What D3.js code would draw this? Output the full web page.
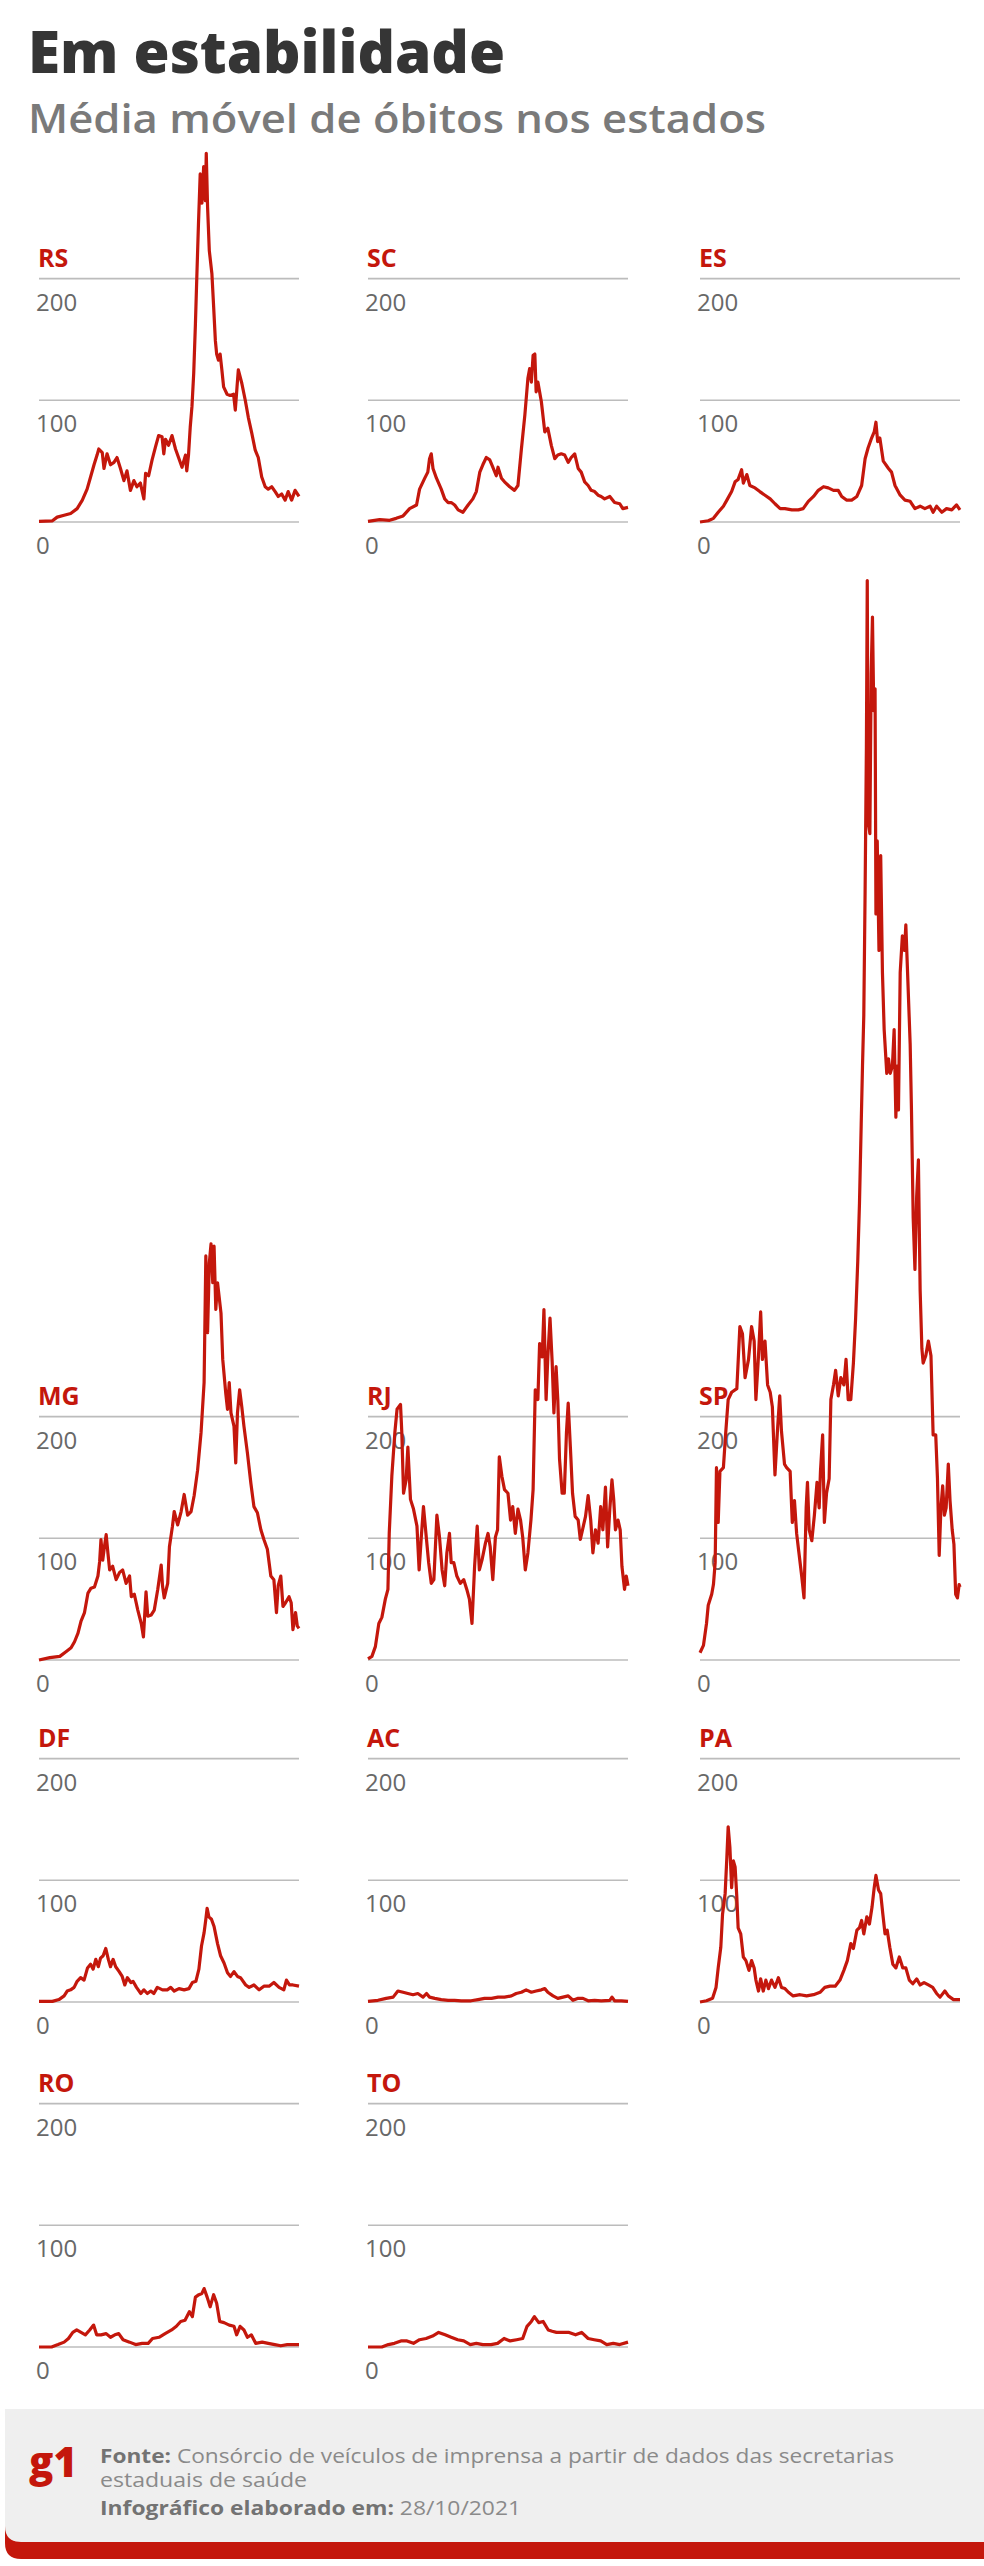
<!DOCTYPE html>
<html>
<head>
<meta charset="utf-8">
<script src="https://cdn.jsdelivr.net/npm/d3@7"></script>
<style>
  body { margin: 0; background: #fff; }
</style>
</head>
<body>
<div id="chart"></div>
<script>
// DATA: moving average of deaths, [day since start, deaths]
var states = ["RS", "SC", "ES", "MG", "RJ", "SP", "DF", "AC", "PA", "RO", "TO"];
var yTicks = [0, 100, 200];
var dayRange = [0, 600];

var rs = [[0,0.5],[31,1],[42,4],[58,5.5],[73,7],[88,11],[100,18],[111,27],[119,37],[127,47],[134,55],[138,60],[146,57],[150,44],[157,56],[165,47],[173,49],[180,53],[188,44],[196,34],[203,42],[211,26],[219,34],[226,29],[234,32],[242,19],[246,40],[253,38],[261,51],[269,62],[276,71],[284,70],[288,56],[292,68],[299,63],[307,71],[315,60],[322,53],[330,45],[338,55],[341,42],[345,55],[349,78],[353,95],[357,122],[361,163],[364,199],[368,245],[372,286],[376,262],[380,292],[384,264],[386,303],[389,259],[393,223],[399,204],[403,177],[407,149],[410,138],[414,133],[418,138],[422,125],[426,111],[434,105],[441,104],[449,105],[453,92],[457,111],[460,125],[468,114],[476,100],[483,86],[491,73],[499,59],[506,53],[514,37],[522,29],[529,27],[537,29],[545,25],[552,21],[560,23],[568,18],[575,25],[583,18],[591,26],[600,21]];

var sc = [[0,0.5],[27,2],[50,1.4],[65,3],[81,5],[96,11],[112,14],[119,27],[131,36],[138,41],[142,52],[146,56],[150,44],[158,36],[169,27],[177,19],[185,16],[192,16],[200,14],[208,10],[219,8],[231,14],[242,19],[250,25],[258,41],[265,47],[273,53],[281,51],[288,45],[296,38],[300,45],[308,36],[315,33],[327,29],[338,26],[346,30],[354,60],[362,88],[369,118],[373,126],[377,115],[381,137],[385,138],[388,107],[392,115],[400,99],[408,74],[415,77],[423,63],[431,52],[438,55],[446,56],[454,55],[462,49],[469,53],[477,56],[485,44],[492,41],[500,33],[508,30],[515,26],[523,25],[531,22],[538,21],[546,19],[558,21],[569,16],[581,15],[588,11],[600,12]];

var es = [[0,0],[19,1],[31,3],[42,8],[54,13],[62,18],[73,25],[81,33],[88,35],[96,43],[100,32],[108,39],[115,30],[127,28],[138,25],[150,22],[162,19],[173,15],[185,11],[196,11],[212,10],[227,10],[238,11],[250,17],[262,21],[273,26],[285,29],[296,28],[308,26],[319,26],[327,21],[338,18],[350,18],[362,21],[373,30],[381,52],[388,61],[396,69],[402,74],[406,82],[410,66],[415,69],[423,50],[435,44],[442,41],[450,30],[462,22],[473,18],[485,17],[496,11],[508,13],[519,11],[531,13],[538,8],[546,13],[558,8],[569,11],[581,10],[592,14],[600,10]];

var mg = [[0,0],[25,2],[48,3],[63,7],[74,10],[82,15],[90,22],[97,32],[105,39],[113,55],[120,59],[128,60],[136,69],[140,81],[143,99],[147,82],[151,93],[155,103],[159,88],[163,74],[170,77],[178,66],[186,72],[193,74],[201,63],[209,69],[213,52],[220,54],[228,41],[236,30],[241,19],[247,56],[251,36],[259,37],[266,41],[274,58],[282,78],[285,61],[289,51],[297,63],[301,93],[308,110],[312,122],[320,111],[328,122],[335,136],[343,119],[351,122],[358,135],[366,156],[374,187],[381,228],[385,332],[389,269],[393,326],[397,342],[401,310],[404,340],[408,288],[412,310],[420,285],[424,247],[431,219],[435,206],[439,228],[443,203],[450,192],[454,162],[458,203],[463,222],[468,208],[473,192],[481,170],[489,145],[496,126],[504,121],[512,107],[519,99],[527,91],[535,69],[542,66],[548,39],[552,61],[558,69],[563,44],[569,47],[577,52],[582,47],[586,25],[592,39],[596,28],[600,26]];

var rj = [[0,1],[9,3],[17,11],[25,30],[32,35],[40,50],[46,58],[49,104],[55,151],[62,187],[67,206],[75,210],[78,187],[82,137],[88,148],[92,175],[98,132],[105,124],[113,110],[118,74],[123,101],[128,126],[135,99],[140,80],[146,63],[152,66],[159,119],[165,101],[171,74],[177,61],[182,88],[188,104],[192,80],[198,80],[205,69],[213,63],[221,66],[228,58],[234,50],[240,30],[246,77],[252,110],[257,74],[263,82],[271,96],[277,104],[282,93],[288,66],[294,101],[299,107],[303,167],[309,151],[315,140],[323,137],[329,115],[334,126],[340,104],[346,124],[352,115],[357,101],[363,74],[369,88],[376,115],[381,140],[386,222],[392,214],[396,260],[402,249],[406,288],[411,214],[415,249],[420,281],[425,245],[429,203],[434,241],[438,214],[442,165],[448,137],[453,137],[458,187],[462,211],[467,175],[472,137],[478,118],[485,115],[490,99],[495,107],[502,118],[508,135],[514,115],[519,88],[525,107],[531,96],[537,126],[542,107],[548,142],[553,93],[558,124],[563,148],[567,132],[571,107],[577,115],[582,107],[586,77],[592,58],[596,69],[600,61]];

var sp = [[0,6],[8,12],[15,30],[19,45],[27,54],[31,62],[35,80],[38,158],[42,113],[46,155],[54,158],[59,185],[65,214],[73,220],[85,223],[92,274],[98,268],[104,232],[112,247],[119,274],[125,262],[129,214],[135,250],[140,286],[144,247],[150,262],[156,226],[162,220],[167,208],[173,152],[179,190],[184,217],[188,188],[195,161],[200,158],[208,155],[213,113],[218,131],[223,104],[228,89],[235,68],[240,51],[245,125],[248,146],[252,107],[258,98],[264,119],[270,146],[275,125],[278,155],[283,185],[287,113],[292,137],[298,149],[302,214],[308,226],[313,238],[319,217],[325,232],[332,226],[337,247],[342,214],[348,214],[354,244],[359,280],[364,327],[368,375],[372,440],[375,488],[378,530],[381,631],[384,750],[386,887],[388,690],[392,679],[395,810],[398,857],[401,780],[404,798],[406,613],[409,673],[413,583],[417,661],[421,565],[425,518],[431,482],[435,494],[439,482],[444,488],[448,518],[452,446],[455,488],[458,452],[462,565],[467,595],[472,583],[475,604],[479,565],[485,506],[488,452],[492,363],[496,321],[500,381],[504,411],[508,304],[512,256],[515,244],[521,250],[527,262],[533,250],[538,185],[544,185],[548,149],[552,86],[556,125],[560,143],[564,119],[568,125],[573,161],[577,131],[582,107],[586,95],[590,54],[594,51],[598,62],[600,60]];

var df = [[0,0.5],[31,0.5],[46,2],[58,5],[65,9],[73,10],[81,12],[88,17],[96,20],[104,18],[112,28],[119,31],[125,27],[131,35],[137,29],[142,36],[148,38],[154,44],[160,35],[165,29],[171,35],[177,29],[185,25],[192,21],[198,14],[204,20],[212,16],[217,17],[225,12],[235,7],[242,10],[250,7],[258,9],[265,7],[273,12],[285,10],[296,10],[304,12],[312,9],[323,11],[335,10],[346,11],[354,16],[362,17],[369,27],[375,46],[381,57],[385,68],[388,77],[392,70],[398,68],[404,62],[412,48],[419,38],[427,32],[435,24],[442,21],[450,25],[458,21],[465,20],[477,14],[485,12],[496,14],[508,10],[519,13],[531,13],[542,16],[554,12],[565,10],[571,18],[578,14],[586,14],[600,13]];

var ac = [[0,0.5],[23,1.4],[42,3],[58,4],[69,9],[81,8],[92,7],[104,6],[115,7],[127,4],[135,7],[142,4],[154,3],[169,2],[185,1.4],[200,1.4],[215,1],[238,1],[254,2],[269,3],[285,3],[300,4],[315,4],[331,5],[342,7],[354,8],[365,10],[377,8],[388,9],[400,10],[408,11],[415,8],[427,5],[438,3],[450,4],[462,5],[473,1.4],[485,3],[496,3],[508,1],[523,1.4],[538,1],[558,1.4],[563,4],[569,1],[585,1],[600,0.5]];

var pa = [[0,0],[15,1],[29,3],[37,12],[42,28],[48,45],[52,72],[58,89],[62,119],[65,144],[69,127],[73,94],[77,116],[81,111],[85,86],[88,61],[94,56],[100,37],[106,34],[113,26],[119,34],[125,28],[129,18],[135,9],[140,19],[146,9],[152,18],[158,11],[165,18],[173,12],[181,20],[188,12],[196,11],[204,8],[215,5],[231,6],[246,5],[262,6],[277,8],[288,12],[300,13],[312,13],[323,18],[332,26],[340,34],[348,48],[354,44],[362,59],[368,61],[373,67],[378,56],[385,70],[391,64],[397,78],[402,94],[406,104],[412,92],[417,89],[422,72],[427,56],[432,59],[438,45],[445,31],[452,28],[460,37],[468,28],[475,28],[483,18],[491,15],[500,19],[508,14],[517,16],[527,14],[537,12],[546,7],[554,4],[565,9],[573,5],[585,2],[600,2]];

var ro = [[0,0],[29,0],[44,2],[58,4],[68,7],[78,12],[87,14],[97,12],[107,10],[117,14],[126,18],[133,10],[143,10],[155,11],[165,8],[175,10],[184,11],[194,6],[209,4],[223,2],[238,3],[252,3],[262,7],[277,8],[291,11],[306,14],[317,17],[327,21],[337,22],[347,29],[354,25],[361,41],[369,43],[376,44],[381,48],[388,41],[395,33],[403,43],[410,36],[417,21],[427,20],[439,18],[450,17],[456,10],[464,17],[473,14],[481,8],[490,10],[500,3],[515,4],[529,3],[544,2],[558,1],[573,2],[587,2],[600,2]];

var to = [[0,0],[32,0],[47,2],[61,3],[76,5],[90,5],[105,3],[119,6],[134,7],[149,9],[163,12],[178,10],[192,8],[207,6],[221,5],[236,2],[250,3],[265,2],[284,2],[299,3],[314,7],[328,5],[343,6],[357,7],[367,17],[377,21],[384,25],[394,20],[404,21],[416,14],[425,13],[435,12],[450,12],[464,12],[479,10],[493,12],[508,7],[522,6],[537,5],[551,2],[566,3],[581,2],[600,4]];

var series = { RS: rs, SC: sc, ES: es, MG: mg, RJ: rj, SP: sp, DF: df, AC: ac, PA: pa, RO: ro, TO: to };

// LAYOUT
var W = 984, H = 2566;
var RED = "#c4170c";
var panelW = 260;
var unit = 121.7;                 // px for 100 deaths
var colX = [39, 368, 700];
var rowZero = [522, 1660, 2002, 2347];

var svg = d3.select("#chart").append("svg")
    .attr("width", W).attr("height", H)
    .style("font-family", "'Open Sans', sans-serif");

// title
svg.append("text")
    .attr("x", 28).attr("y", 73)
    .attr("textLength", 477).attr("lengthAdjust", "spacingAndGlyphs")
    .style("font-size", "58px").style("font-weight", 800)
    .style("fill", "#353535")
    .text("Em estabilidade");

svg.append("text")
    .attr("x", 28).attr("y", 133)
    .attr("textLength", 738).attr("lengthAdjust", "spacingAndGlyphs")
    .style("font-size", "40px").style("font-weight", 600)
    .style("fill", "#7a7a7a")
    .text("Média móvel de óbitos nos estados");

// small multiples
states.forEach(function(st, i) {
    var col = i % 3, row = Math.floor(i / 3);
    var x0 = colX[col], zero = rowZero[row];

    var x = d3.scaleLinear().domain(dayRange).range([x0, x0 + panelW]);
    var y = d3.scaleLinear().domain([0, 200]).range([zero, zero - 2 * unit]);

    var g = svg.append("g");

    g.selectAll("line.grid").data(yTicks).join("line")
        .attr("x1", x(dayRange[0])).attr("x2", x(dayRange[1]))
        .attr("y1", function(d) { return y(d); })
        .attr("y2", function(d) { return y(d); })
        .style("stroke", "#bcbcbc").style("stroke-width", 1.6);

    g.selectAll("text.tick").data(yTicks).join("text")
        .attr("x", x(dayRange[0]) - 3)
        .attr("y", function(d) { return y(d) + 32; })
        .style("font-size", "24px").style("font-weight", 400)
        .style("fill", "#686868")
        .text(function(d) { return d; });

    g.append("text")
        .attr("x", x(dayRange[0]) - 1)
        .attr("y", y(200) - 12)
        .style("font-size", "25px").style("font-weight", 700)
        .style("fill", RED)
        .text(st);

    var line = d3.line()
        .x(function(d) { return x(d[0]); })
        .y(function(d) { return y(d[1]); });

    g.append("path")
        .datum(series[st])
        .attr("d", line)
        .style("fill", "none")
        .style("stroke", RED)
        .style("stroke-width", 3.2)
        .style("stroke-linejoin", "round");
});

// footer
svg.append("path")
    .attr("d", "M5,2500 H984 V2559 H21 Q5,2559 5,2543 Z")
    .style("fill", RED);
svg.append("path")
    .attr("d", "M5,2409 H984 V2542 H21 Q5,2542 5,2526 Z")
    .style("fill", "#efefef");

svg.append("text")
    .attr("x", 29).attr("y", 2477)
    .attr("textLength", 48).attr("lengthAdjust", "spacingAndGlyphs")
    .style("font-size", "42px").style("font-weight", 800)
    .style("fill", RED)
    .text("g1");

var foot = [
    { bold: "Fonte:", rest: " Consórcio de veículos de imprensa a partir de dados das secretarias", y: 2463, len: 794 },
    { bold: "", rest: "estaduais de saúde", y: 2487, len: 207 },
    { bold: "Infográfico elaborado em:", rest: " 28/10/2021", y: 2515, len: 421 }
];

foot.forEach(function(f) {
    var t = svg.append("text")
        .attr("x", 100).attr("y", f.y)
        .attr("textLength", f.len).attr("lengthAdjust", "spacingAndGlyphs")
        .style("font-size", "20px");
    if (f.bold) {
        t.append("tspan").style("font-weight", 700).style("fill", "#737373").text(f.bold);
    }
    t.append("tspan").style("font-weight", 400).style("fill", "#8a8a8a").text(f.rest);
});
</script>
</body>
</html>
